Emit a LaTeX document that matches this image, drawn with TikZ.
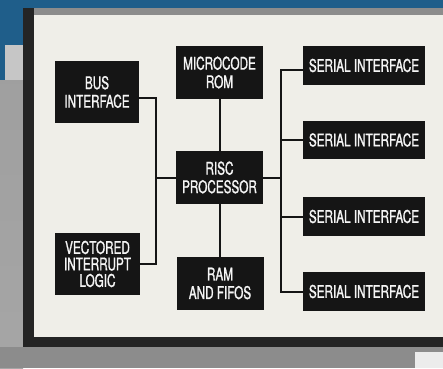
\documentclass[tikz,border=0pt]{standalone}
\usepackage{fontspec}
\newfontfamily\boxfont[FakeStretch=0.67,FakeBold=1.2]{TeX Gyre Heros}
\definecolor{bgblue}{HTML}{1F5E8A}
\definecolor{paper}{HTML}{EFEEE8}
\definecolor{frame}{HTML}{242424}
\definecolor{boxblack}{HTML}{151515}
\tikzset{
  blk/.style={fill=boxblack, draw=none, text=white!92!gray, align=center,
    font=\boxfont\fontsize{17.5}{18.5}\selectfont, inner sep=0pt},
  wire/.style={draw=boxblack, line width=2pt}
}
\begin{document}
\begin{tikzpicture}[x=1pt, y=-1pt]
\useasboundingbox (0,0) rectangle (443,368);
% background
\fill[white!90!gray] (0,0) rectangle (443,368);
\shade[top color=gray!75, bottom color=gray!130!black] (0,78) rectangle (23,368);
\fill[gray!110!black] (0,347) rectangle (443,368);
\fill[gray!15] (415,352) rectangle (443,368);
\fill[bgblue] (0,0) rectangle (443,8);
\fill[bgblue] (0,0) rectangle (23,80);
\fill[gray!45] (5,45) rectangle (23,80);
% frame
\fill[gray!110!black] (23,8) rectangle (443,15);
\fill[frame] (23,8) rectangle (34,347);
\fill[frame] (23,337) rectangle (443,347);
\fill[paper] (34,15) rectangle (443,337);
% boxes
\node[blk, minimum width=84pt, minimum height=62pt] (bus) at (97,92) {BUS\\INTERFACE};
\node[blk, minimum width=85pt, minimum height=62pt, font=\boxfont\fontsize{17.5}{16.5}\selectfont] (vil) at (97.5,264) {VECTORED\\INTERRUPT\\LOGIC};
\node[blk, minimum width=87pt, minimum height=53pt] (mrom) at (219.5,72.5) {MICROCODE\\ROM};
\node[blk, minimum width=87pt, minimum height=53pt] (risc) at (219.5,177.5) {RISC\\PROCESSOR};
\node[blk, minimum width=87pt, minimum height=53pt] (ram) at (220,283.5) {RAM\\AND FIFOS};
\node[blk, minimum width=122pt, minimum height=39pt] (si1) at (364,65.5) {SERIAL INTERFACE};
\node[blk, minimum width=122pt, minimum height=38pt] (si2) at (364,140) {SERIAL INTERFACE};
\node[blk, minimum width=122pt, minimum height=39pt] (si3) at (364,216.5) {SERIAL INTERFACE};
\node[blk, minimum width=122pt, minimum height=39pt] (si4) at (364,291.5) {SERIAL INTERFACE};
% buses
\coordinate (lb) at (156,0);
\coordinate (rb) at (281,0);
\draw[wire] ([yshift=-6pt]bus.east) -| (lb |- vil.east) -- (vil.east);
\draw[wire] (risc.west) -- (lb |- risc.west);
\draw[wire] ([yshift=-4pt]si1.west) -| (rb |- si4.west) -- (si4.west);
\draw[wire] (risc.east) -- (rb |- risc.east);
\draw[wire] (si2.west) -- (rb |- si2.west);
\draw[wire] (si3.west) -- (rb |- si3.west);
\draw[wire] (mrom.south) -- (mrom.south |- risc.north);
\draw[wire] (risc.south) -- (risc.south |- ram.north);
\end{tikzpicture}
\end{document}
